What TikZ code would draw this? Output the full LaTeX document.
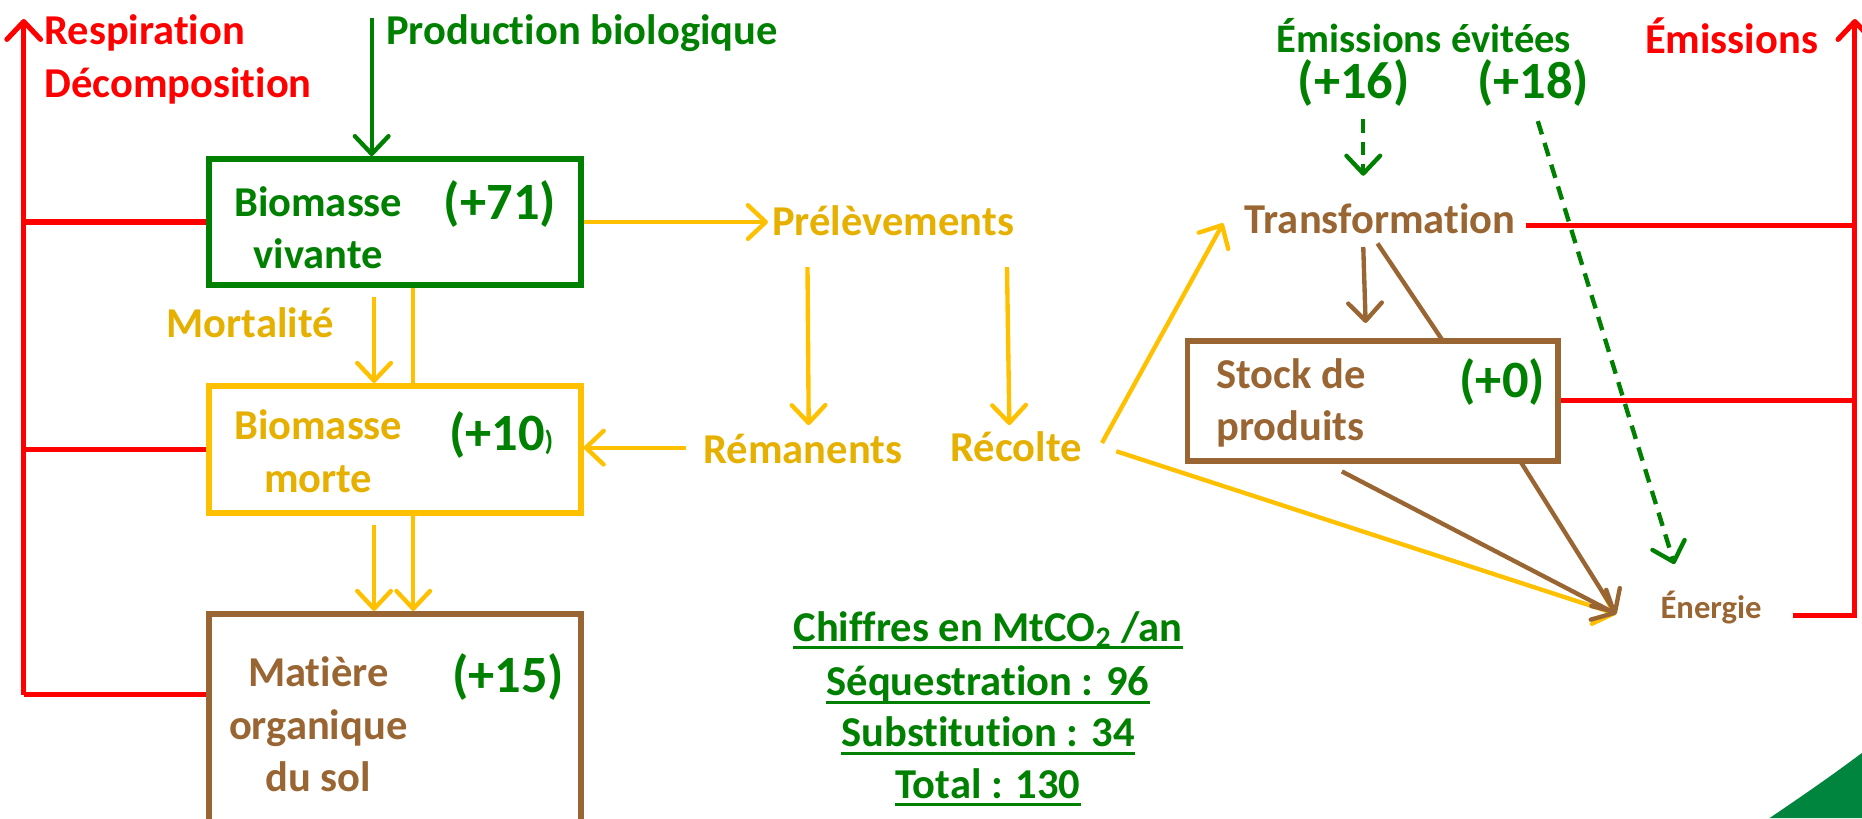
\documentclass[tikz,border=0pt]{standalone}
\usepackage{fontspec}
\setmainfont{Carlito}[Ligatures=NoCommon]
\usetikzlibrary{arrows.meta}
\definecolor{cgreen}{RGB}{0,128,0}
\definecolor{cred}{RGB}{255,0,0}
\definecolor{cyel}{RGB}{255,192,0}
\definecolor{cyelt}{RGB}{230,176,0}
\definecolor{cbrown}{RGB}{153,102,51}
\definecolor{cswoosh}{RGB}{0,133,62}
\begin{document}
\begin{tikzpicture}[x=0.6pt,y=-0.6pt,
  lbl/.style={font=\fontsize{21.5}{26.4}\selectfont\bfseries, inner sep=0pt},
  num/.style={font=\fontsize{26.5}{30}\selectfont\bfseries, text=cgreen, inner sep=0pt},
  boxst/.style={draw, line width=3pt, inner sep=0pt},
  arr/.style={-{Straight Barb[length=9pt,width=17pt,round]}},
  redl/.style={draw=cred, line width=2.6pt},
  yell/.style={draw=cyel, line width=2.2pt},
  brownl/.style={draw=cbrown, line width=2.2pt},
  greenl/.style={draw=cgreen, line width=2.2pt},
  uline/.style={draw=cgreen, line width=1.6pt},
  dashg/.style={draw=cgreen, line width=2.2pt, dash pattern=on 7pt off 4.5pt}]
\useasboundingbox (0,0) rectangle (1568,689);
% swoosh
\fill[cswoosh] (1490,689) .. controls (1515,672) and (1540,655) .. (1568,634) -- (1568,689) -- cycle;
% boxes
\node[boxst, draw=cgreen, minimum width=187.8pt, minimum height=63.6pt] (bv) at (332.5,187) {};
\node[boxst, draw=cyel, minimum width=187.8pt, minimum height=64.2pt] (bm) at (332.5,378.5) {};
\node[boxst, draw=cbrown, minimum width=187.8pt, minimum height=109.8pt] (mo) at (332.5,608.5) {};
\node[boxst, draw=cbrown, minimum width=187.2pt, minimum height=60.6pt] (sp) at (1156,337.5) {};
% box texts
\node[lbl, text=cgreen, align=center] (bvt) at (268,192) {Biomasse\\vivante};
\node[num] (n71) at (421,172) {(+71)};
\node[lbl, text=cyelt, align=center] (bmt) at (268,380) {Biomasse\\morte};
\node[num] (n10) at (422,366) {(+10{\fontsize{14}{14}\selectfont)}};
\node[lbl, text=cbrown, align=center] (mot) at (268,610) {Matière\\organique\\du sol};
\node[num] (n15) at (428,570) {(+15)};
\node[lbl, text=cbrown, align=left, anchor=west] (spt) at (1024,339) {Stock de\\produits};
\node[num] (n0) at (1265,322) {(+0)};
% labels
\node[lbl, text=cred, anchor=west, align=left] (resp) at (37,50) {Respiration\\Décomposition};
\node[lbl, text=cgreen, anchor=west] (prod) at (325,28) {Production biologique};
\node[lbl, text=cyelt, anchor=west] (prel) at (650,186) {Prélèvements};
\node[lbl, text=cyelt, anchor=west] (mort) at (140,272) {Mortalité};
\node[lbl, text=cyelt, anchor=west] (rem) at (592,378) {Rémanents};
\node[lbl, text=cyelt, anchor=west] (rec) at (800,376) {Récolte};
\node[lbl, text=cbrown, anchor=west] (trans) at (1048,184) {Transformation};
\node[lbl, text=cgreen, anchor=west, font=\fontsize{20.5}{26}\selectfont\bfseries] (emev) at (1075,30) {Émissions évitées};
\node[num] (n16) at (1140,70) {(+16)};
\node[num] (n18) at (1291,70) {(+18)};
\node[lbl, text=cred, anchor=west] (emis) at (1385,30) {Émissions};
\node[lbl, text=cbrown, anchor=west, font=\fontsize{16.5}{18}\selectfont\bfseries] (ener) at (1398,512) {Énergie};
% summary
\node[lbl, text=cgreen, anchor=base] (c1) at (832,540) {Chiffres en MtCO\textsubscript{2} /an};
\node[lbl, text=cgreen, anchor=base] (c2) at (832,586) {Séquestration : 96};
\node[lbl, text=cgreen, anchor=base] (c3) at (832,629) {Substitution : 34};
\node[lbl, text=cgreen, anchor=base] (c4) at (832,672) {Total : 130};
\foreach \n in {c1,c2,c3,c4}
  \draw[uline] ([yshift=-3.2pt]\n.base west) -- ([yshift=-3.2pt]\n.base east);
% coordinates
\coordinate (rlb) at (20,585);
\coordinate (rlt) at (20,16);
\coordinate (pbs) at (313,15);
\coordinate (ma) at (315,250);
\coordinate (l348) at (348,0);
\coordinate (mb) at (315,442);
\coordinate (rs) at (578,377);
\coordinate (p1) at (680,225);
\coordinate (p1e) at (681,358);
\coordinate (p2) at (848,225);
\coordinate (p2e) at (850,358);
\coordinate (rc1) at (928,373);
\coordinate (tr1) at (1030,188);
\coordinate (rc2) at (940,380);
\coordinate (en1) at (1361,517);
\coordinate (t2) at (1148,208);
\coordinate (t2e) at (1150,272);
\coordinate (t3) at (1160,205);
\coordinate (t3e) at (1215,287);
\coordinate (re1) at (1285,190);
\coordinate (rrb) at (1562,520);
\coordinate (rrt) at (1562,16);
\coordinate (ene) at (1510,518);
\coordinate (sb1) at (1130,397);
\coordinate (sb2) at (1280,388);
\coordinate (g1) at (1148,100);
\coordinate (g1e) at (1148,148);
\coordinate (g2) at (1295,102);
\coordinate (g2e) at (1410,475);
% red left
\draw[redl, arr] (rlb) -- (rlt);
\draw[redl] (rlb |- bv.west) -- (bv.west);
\draw[redl] (rlb |- bm.west) -- (bm.west);
\draw[redl] (rlb) -- (rlb -| mo.west);
% production
\draw[greenl, arr] (pbs) -- (pbs |- bv.north);
% yellow flows
\draw[yell, arr, shorten >=2pt] (bv.east) -- (bv.east -| prel.west);
\draw[yell, arr] (ma) -- (ma |- bm.north);
\draw[yell] (l348 |- bv.south) -- (l348 |- bm.north);
\draw[yell, arr] (mb) -- (mb |- mo.north);
\draw[yell, arr] (l348 |- bm.south) -- (l348 |- mo.north);
\draw[yell, arr] (rs) -- (rs -| bm.east);
\draw[yell, arr] (p1) -- (p1e);
\draw[yell, arr] (p2) -- (p2e);
\draw[yell, arr] (rc1) -- (tr1);
\draw[yell, arr] (rc2) -- (en1);
% brown flows
\draw[brownl, arr] (t2) -- (t2e);
\draw[brownl] (t3) -- (t3e);
\draw[brownl, arr] (sb1) -- (en1);
\draw[brownl, arr] (sb2) -- (en1);
% red right
\draw[redl, arr] (rrb) -- (rrt);
\draw[redl] (re1) -- (re1 -| rrb);
\draw[redl] (sp.east) -- (sp.east -| rrb);
\draw[redl] (ene) -- (ene -| rrb);
% green dashed
\draw[dashg, arr] (g1) -- (g1e);
\draw[dashg, arr] (g2) -- (g2e);
\end{tikzpicture}
\end{document}
